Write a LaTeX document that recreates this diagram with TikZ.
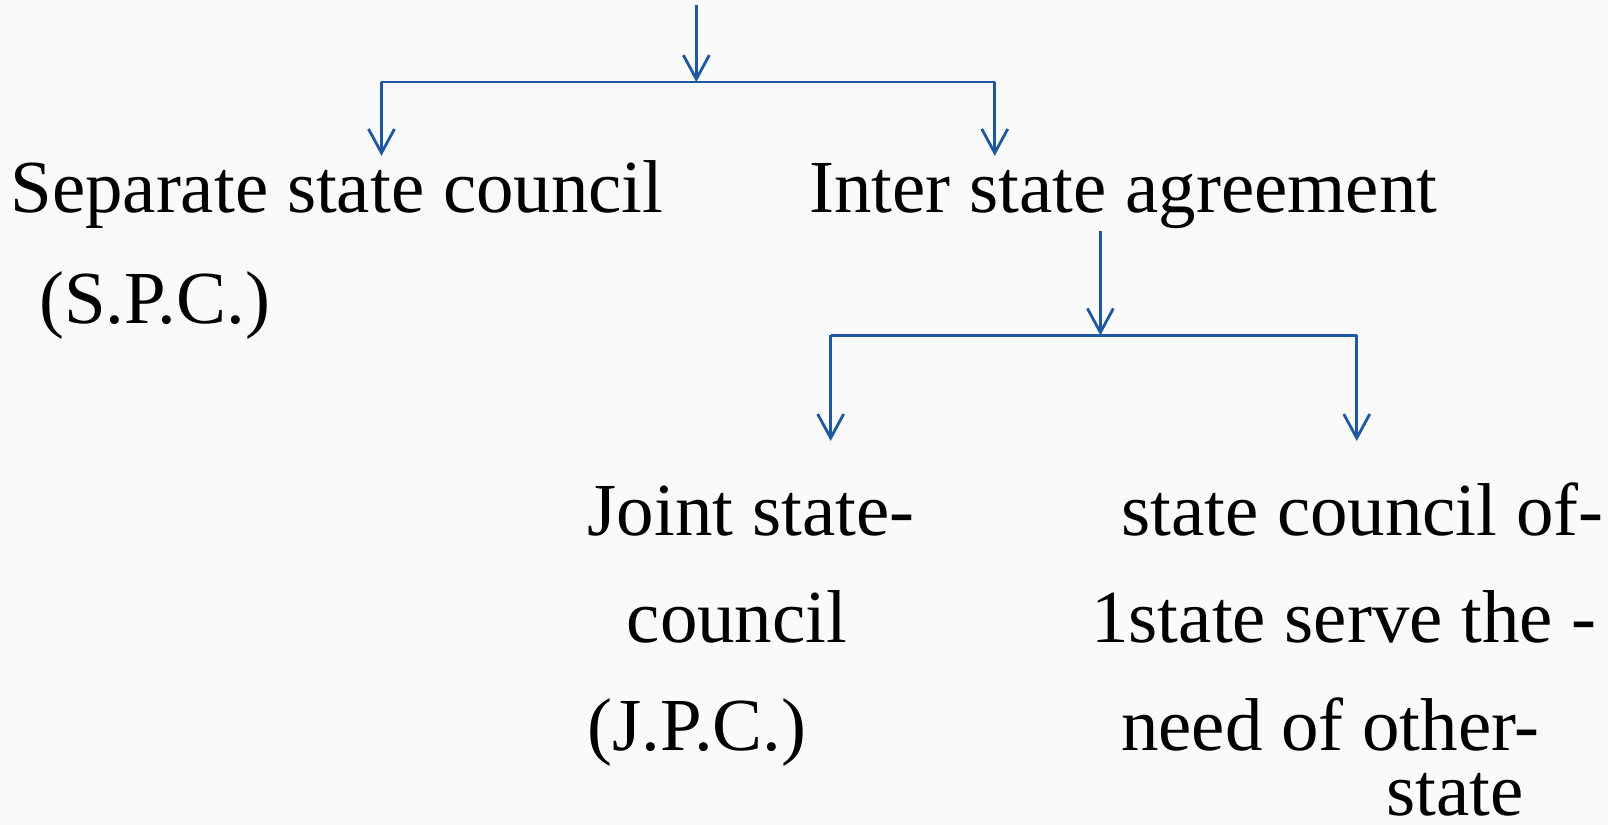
\documentclass[tikz,border=0pt]{standalone}
\usepackage{fontspec}
\setmainfont{Liberation Serif}
\usetikzlibrary{arrows.meta}
\definecolor{bg}{RGB}{250,250,250}
\definecolor{conn}{RGB}{30,88,160}
\tikzset{
  lbl/.style={inner sep=0pt, anchor=base west, font=\fontsize{74.9pt}{90pt}\selectfont},
  link/.style={draw=conn, line width=2.8pt},
  arr/.style={link, -{Straight Barb[length=24pt,width=26pt,line width=2.8pt]}}
}
\begin{document}
\begin{tikzpicture}[x=1.0256pt,y=-1.0256pt]
\fill[bg] (0,0) rectangle (1568,804.4);
\useasboundingbox (0,0) rectangle (1568,804.4);
% text nodes
\node[lbl] (spc) at (10,207) {Separate state council};
\node[lbl] (spc2) at (38,315) {(S.P.C.)};
\node[lbl] (isa) at (789,207) {Inter state agreement};
\node[lbl] (jpc1) at (573,522) {Joint state-};
\node[lbl] (jpc2) at (611,627) {council};
\node[lbl] (jpc3) at (573,732) {(J.P.C.)};
\node[lbl] (sc1) at (1093,522) {state council of-};
\node[lbl] (sc2) at (1064,627) {1state serve the -};
\node[lbl] (sc3) at (1093,732) {need of other-};
\node[lbl] (sc4) at (1352,795) {state};
% connector points
\coordinate (top) at (679,5);
\coordinate (j1) at (679,80);
\coordinate (j1l) at (372,80);
\coordinate (j1r) at (970,80);
\coordinate (spcin) at (372,152);
\coordinate (isain) at (970,152);
\coordinate (isaout) at (1073,225);
\coordinate (j2) at (1073,327);
\coordinate (j2l) at (810,327);
\coordinate (j2r) at (1323,327);
\coordinate (jpcin) at (810,430);
\coordinate (scin) at (1323,430);
% connectors
\draw[arr] (top) -- (j1);
\draw[link] (j1l) -- (j1r);
\draw[arr] (j1l) -- (spcin);
\draw[arr] (j1r) -- (isain);
\draw[arr] (isaout) -- (j2);
\draw[link] (j2l) -- (j2r);
\draw[arr] (j2l) -- (jpcin);
\draw[arr] (j2r) -- (scin);
\end{tikzpicture}
\end{document}
